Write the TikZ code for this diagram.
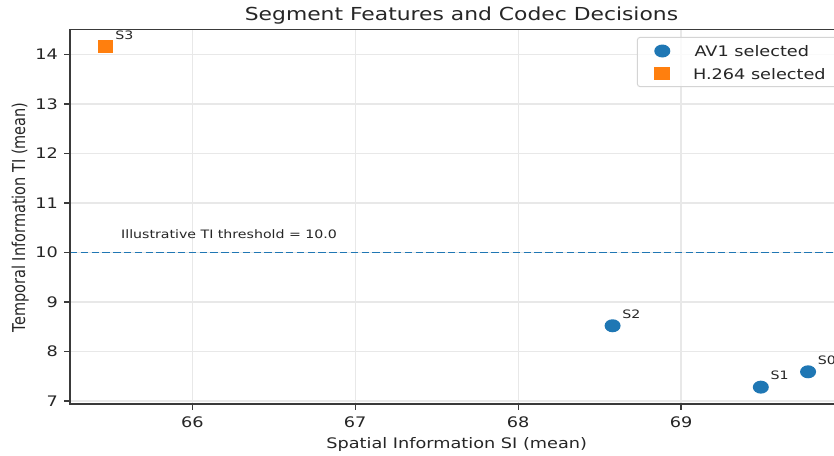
\documentclass[tikz,border=0pt]{standalone}
\usepackage{fontspec}
\setmainfont{DejaVu Sans}[FakeStretch=1.22]
\newfontfamily\sidefont{DejaVu Sans}
\usetikzlibrary{shapes.geometric}

\definecolor{avblue}{HTML}{1F77B4}
\definecolor{h264orange}{HTML}{FF7F0E}
\definecolor{gridgray}{HTML}{E8E8E8}
\definecolor{spinegray}{HTML}{3A3A3A}
\definecolor{framegray}{HTML}{D4D4D4}

\newcommand{\bigfont}{\fontsize{14.5}{17}\selectfont}
\newcommand{\titlefont}{\fontsize{17.9}{20}\selectfont}
\newcommand{\smallfont}{\fontsize{11.6}{14}\selectfont}

\begin{document}
\begin{tikzpicture}[x=1pt, y=1pt,
  spine/.style={spinegray, line width=1.2pt},
  gridline/.style={gridgray, line width=1.1pt},
  ticklabel/.style={font=\bigfont, text=black!85, inner sep=0pt},
  ptlabel/.style={font=\smallfont, text=black!85, inner sep=0pt, anchor=base west},
  avmark/.style={ellipse, fill=avblue, minimum width=16pt, minimum height=13pt, inner sep=0pt},
  h264mark/.style={rectangle, fill=h264orange, minimum width=15.7pt, minimum height=12.7pt, inner sep=0pt}
]
\clip (0,0) rectangle (834,-455);
\fill[white] (0,0) rectangle (834,-455);

% ---------------- axes in data units (SI 65.249..70, TI 6.939..14.509) ----------------
\begin{scope}[shift={(192.3,-401)}, x=162.9pt, y=49.5pt, shift={(-66,-7)}]
  % grid
  \foreach \t in {66,...,69}
    \draw[gridline] (\t,6.939) -- (\t,14.509);
  \foreach \t in {7,...,14}
    \draw[gridline] (65.249,\t) -- (70,\t);

  % threshold line
  \draw[avblue, line width=1.3pt, dash pattern=on 7.5pt off 3.3pt] (65.249,10) -- (70,10);
  \node[ptlabel] (thrlabel) at (65.562,10.283) {Illustrative TI threshold = 10.0};

  % frame and ticks
  \draw[spine] (65.249,6.939) rectangle (70,14.509);
  \foreach \t in {7,...,14}
    \draw[spine] (65.249,\t) -- ++(-6pt,0) node[ticklabel, anchor=east, xshift=-5.5pt] (yt\t) {\t};
  \foreach \t in {66,...,69}
    \draw[spine] (\t,6.939) -- ++(0,-6pt) node[ticklabel, anchor=north, yshift=-6.5pt] (xt\t) {\t};

  % segments
  \node[avmark] (s0) at (69.78,7.59) {};
  \node[avmark] (s1) at (69.49,7.28) {};
  \node[avmark] (s2) at (68.58,8.52) {};
  \node[h264mark] (s3) at (65.467,14.166) {};
  \foreach \s in {0,...,3}
    \node[ptlabel] (s\s lab) at ([shift={(9.7pt,7.2pt)}]s\s.center) {S\s};
\end{scope}

% ---------------- titles ----------------
\node[font=\titlefont, text=black!85, inner sep=0pt, anchor=base] (title) at (461.5,-20.7)
  {Segment Features and Codec Decisions};
\node[ticklabel, anchor=base] (xlabel) at (456.7,-448.3) {Spatial Information SI (mean)};
\node[font=\sidefont\fontsize{14.5}{17}\selectfont, text=black!85, inner sep=0pt,
  anchor=base, rotate=90, yscale=1.22] (ylabel) at (25,-217.3) {Temporal Information TI (mean)};

% ---------------- legend ----------------
\draw[framegray, fill=white, fill opacity=0.8, rounded corners=3pt, line width=1pt]
  (637.3,-37.3) rectangle (840,-86.7);
\node[avmark] (legav) at (662.3,-51) {};
\node[h264mark] (legh) at (662,-73.7) {};
\node[ticklabel, anchor=base west] (legavtext) at (694.3,-56) {AV1 selected};
\node[ticklabel, anchor=base west] (leghtext) at (692.8,-79) {H.264 selected};

\end{tikzpicture}
\end{document}
